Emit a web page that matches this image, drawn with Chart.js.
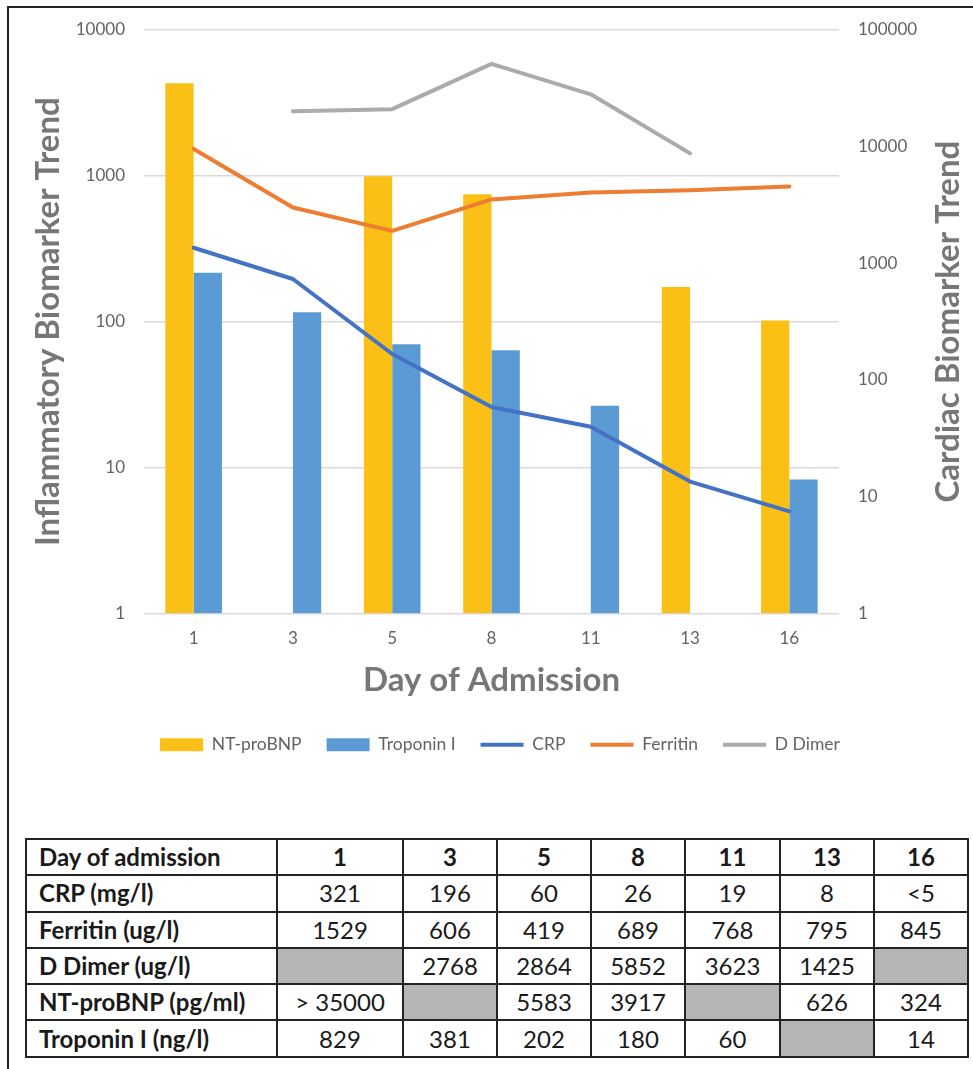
<!DOCTYPE html>
<html>
<head>
<meta charset="utf-8">
<script src="https://cdn.jsdelivr.net/npm/chart.js@4.4.1/dist/chart.umd.min.js"></script>
<style>
  html, body { margin: 0; padding: 0; background: #fff; }
  body { width: 973px; height: 1069px; position: relative; overflow: hidden; font-family: Lato, "Open Sans", sans-serif; }
  #frame { position: absolute; left: 7px; top: 6px; width: 1000px; height: 1100px; border-left: 2px solid #222; border-top: 2px solid #222; }
  #chartBox { position: absolute; left: 0; top: 0; width: 973px; height: 780px; }
  #labTable { position: absolute; left: 25px; top: 838px; width: 942px; border-collapse: collapse; table-layout: fixed;
              font-family: Lato, "Open Sans", sans-serif; font-size: 24px; color: #1a1a1a; }
  #labTable td { border: 2px solid #222; padding: 0; text-align: center; line-height: 1; white-space: nowrap; }
  #labTable tr { height: 36.3px; }
  #labTable td.rowhead { text-align: left; padding-left: 12px; font-weight: bold; }
  #labTable tr.head td { font-weight: bold; }
  #labTable td.na { background: #B5B5B5; }
</style>
</head>
<body>
<div id="frame"></div>
<div id="chartBox"><canvas id="chart" width="973" height="780"></canvas></div>
<table id="labTable">
  <colgroup>
    <col style="width:251px"><col style="width:126px"><col style="width:94px"><col style="width:94px">
    <col style="width:94px"><col style="width:95px"><col style="width:94px"><col style="width:94px">
  </colgroup>
  <tbody id="labBody"></tbody>
</table>
<script>
// Sampling days (day of admission)
const days = ['1', '3', '5', '8', '11', '13', '16'];

// Inflammatory markers (left axis)
const crp      = [321, 196, 60, 26, 19, 8, 5];
const ferritin = [1529, 606, 419, 689, 768, 795, 845];
const dDimer   = [null, 2768, 2864, 5852, 3623, 1425, null];

// Cardiac markers (right axis)
const ntProBNP  = [35000, null, 5583, 3917, null, 626, 324];
const troponinI = [829, 381, 202, 180, 60, null, 14];

// Qualifiers printed in the table for values at the assay limits
const crpQualifier = ['', '', '', '', '', '', '<'];
const bnpQualifier = ['> ', '', '', '', '', '', ''];

// Axis tick values
const leftTicks  = [1, 10, 100, 1000, 10000];
const rightTicks = [1, 10, 100, 1000, 10000, 100000];

const FONT = 'Lato, "Open Sans", sans-serif';
const TICK_COLOR = '#636363';
const TITLE_COLOR = '#777777';
const TITLE_SIZE = 33;

// ---- data table under the chart ----
const tableRows = [
  { name: 'CRP (mg/l)', values: crp, qual: crpQualifier },
  { name: 'Ferritin (ug/l)', values: ferritin },
  { name: 'D Dimer (ug/l)', values: dDimer },
  { name: 'NT-proBNP (pg/ml)', values: ntProBNP, qual: bnpQualifier },
  { name: 'Troponin I (ng/l)', values: troponinI }
];
const body = document.getElementById('labBody');
const head = document.createElement('tr');
head.className = 'head';
head.innerHTML = '<td class="rowhead">Day of admission</td>' + days.map(d => '<td>' + d + '</td>').join('');
body.appendChild(head);
tableRows.forEach(r => {
  const tr = document.createElement('tr');
  const th = document.createElement('td');
  th.className = 'rowhead';
  th.textContent = r.name;
  tr.appendChild(th);
  r.values.forEach((v, i) => {
    const td = document.createElement('td');
    if (v === null) { td.className = 'na'; }
    else { td.textContent = (r.qual ? r.qual[i] : '') + v; }
    tr.appendChild(td);
  });
  body.appendChild(tr);
});

// ---- chart ----
// Right-hand axis title, reading bottom-to-top like the left one
const rightTitle = {
  id: 'rightTitle',
  afterDraw(chart) {
    const s = chart.scales.y1;
    const ctx = chart.ctx;
    ctx.save();
    ctx.translate(s.right - 25, (chart.chartArea.top + chart.chartArea.bottom) / 2);
    ctx.rotate(-Math.PI / 2);
    ctx.font = 'bold ' + TITLE_SIZE + 'px ' + FONT;
    ctx.fillStyle = TITLE_COLOR;
    ctx.textAlign = 'center';
    ctx.textBaseline = 'middle';
    ctx.fillText('Cardiac Biomarker Trend', 0, 0);
    ctx.restore();
  }
};

const lineStyle = (color) => ({
  type: 'line', borderColor: color, backgroundColor: color, borderWidth: 4,
  pointRadius: 0, pointHoverRadius: 0, pointStyle: 'line', tension: 0,
  borderCapStyle: 'round', borderJoinStyle: 'round', yAxisID: 'y', order: 1
});
const barStyle = (color) => ({
  type: 'bar', backgroundColor: color, borderWidth: 0, pointStyle: 'rect',
  categoryPercentage: 0.57, barPercentage: 1, yAxisID: 'y1', order: 2
});

new Chart(document.getElementById('chart'), {
  data: {
    labels: days,
    datasets: [
      Object.assign({ label: 'NT-proBNP', data: ntProBNP }, barStyle('#FBC015')),
      Object.assign({ label: 'Troponin I', data: troponinI }, barStyle('#5B9BD5')),
      Object.assign({ label: 'CRP', data: crp }, lineStyle('#4472C4')),
      Object.assign({ label: 'Ferritin', data: ferritin }, lineStyle('#ED7D31')),
      Object.assign({ label: 'D Dimer', data: dDimer }, lineStyle('#ABABAB'))
    ]
  },
  options: {
    responsive: false,
    animation: false,
    layout: { padding: { left: 27, right: 0, top: 30, bottom: 16.5 } },
    plugins: {
      tooltip: { enabled: false },
      legend: {
        position: 'bottom',
        labels: {
          usePointStyle: true, pointStyleWidth: 43, boxHeight: 13, padding: 25,
          color: TICK_COLOR, font: { family: FONT, size: 17.5 },
          sort: (a, b) => a.datasetIndex - b.datasetIndex
        }
      }
    },
    scales: {
      x: {
        type: 'category',
        grid: { display: false, drawTicks: false },
        border: { display: false },
        ticks: { color: TICK_COLOR, font: { family: FONT, size: 17 }, padding: 15 },
        title: { display: true, text: 'Day of Admission', color: TITLE_COLOR,
                 font: { family: FONT, size: TITLE_SIZE, weight: 'bold' }, padding: { top: 0, bottom: 10.7 } },
        afterFit(s) { s.height = 97.75; }
      },
      y: {
        type: 'logarithmic', position: 'left', min: 1, max: 10000,
        afterBuildTicks(s) { s.ticks = leftTicks.map(v => ({ value: v })); },
        ticks: { color: TICK_COLOR, font: { family: FONT, size: 17 }, padding: 19, callback: v => String(v) },
        grid: { color: '#D9D9D9', lineWidth: 1.5, drawTicks: false },
        border: { display: false },
        title: { display: true, text: 'Inflammatory Biomarker Trend', color: TITLE_COLOR,
                 font: { family: FONT, size: TITLE_SIZE, weight: 'bold' }, padding: { top: 1.2, bottom: 0 } },
        afterFit(s) { s.width = 117; }
      },
      y1: {
        type: 'logarithmic', position: 'right', min: 1, max: 100000,
        afterBuildTicks(s) { s.ticks = rightTicks.map(v => ({ value: v })); },
        ticks: { color: TICK_COLOR, font: { family: FONT, size: 17 }, padding: 19, callback: v => String(v) },
        grid: { display: false, drawTicks: false },
        border: { display: false },
        afterFit(s) { s.width = 134; }
      }
    }
  },
  plugins: [rightTitle]
});
</script>
</body>
</html>
